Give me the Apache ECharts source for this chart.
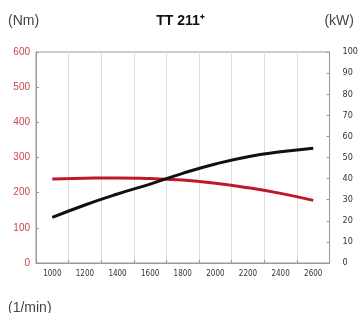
<!DOCTYPE html>
<html>
<head>
<meta charset="utf-8">
<script src="https://cdn.jsdelivr.net/npm/echarts@6/dist/echarts.min.js"></script>
<style>
  html, body { margin: 0; padding: 0; background: #fff; }
  #chart { width: 361px; height: 313px; }
</style>
</head>
<body>
<div id="chart"></div>
<script>
// rpm categories
var speeds = ['1000', '1200', '1400', '1600', '1800', '2000', '2200', '2400', '2600'];
// torque (Nm), left axis
var torque = [239, 241, 242, 240, 236, 227, 214, 198, 178];
// power (kW), right axis
var power = [21.6, 27.5, 32.7, 37.4, 42.5, 46.9, 50.4, 52.7, 54.4];

var chart = echarts.init(document.getElementById('chart'));
chart.setOption({
    animation: false,
    title: [
        {
            text: 'TT 211\u207A',
            left: 'center',
            top: 9,
            textStyle: {fontFamily: 'Liberation Sans', fontSize: 14, fontWeight: 'bold', color: '#111'}
        },
        {
            text: '(Nm)',
            left: 3,
            top: 9,
            textStyle: {fontFamily: 'Liberation Sans', fontSize: 14, fontWeight: 'normal', color: '#444'}
        },
        {
            text: '(kW)',
            right: 2,
            top: 9,
            textStyle: {fontFamily: 'Liberation Sans', fontSize: 14, fontWeight: 'normal', color: '#444'}
        },
        {
            text: '(1/min)',
            left: 3,
            top: 296,
            textStyle: {fontFamily: 'Liberation Sans', fontSize: 14, fontWeight: 'normal', color: '#444'}
        }
    ],
    grid: {
        left: 36,
        right: 31,
        top: 52,
        bottom: 50,
        show: true,
        borderColor: '#999',
        borderWidth: 1
    },
    xAxis: {
        type: 'category',
        data: speeds,
        boundaryGap: true,
        axisLine: {lineStyle: {color: '#999'}},
        axisTick: {show: true, inside: true, length: 3, lineStyle: {color: '#999'}},
        axisLabel: {fontFamily: 'DejaVu Sans Condensed', fontSize: 8, color: '#333', margin: 7},
        splitLine: {show: true, lineStyle: {color: '#ddd', width: 1}}
    },
    yAxis: [
        {
            type: 'value',
            min: 0,
            max: 600,
            interval: 100,
            axisLine: {show: true, lineStyle: {color: '#999'}},
            axisTick: {show: true, inside: true, length: 3, lineStyle: {color: '#999'}},
            axisLabel: {fontFamily: 'Liberation Sans', fontSize: 10, color: '#c8454a', margin: 6},
            splitLine: {show: false}
        },
        {
            type: 'value',
            min: 0,
            max: 100,
            interval: 10,
            position: 'right',
            axisLine: {show: true, lineStyle: {color: '#999'}},
            axisTick: {show: true, inside: true, length: 3, lineStyle: {color: '#999'}},
            axisLabel: {fontFamily: 'DejaVu Sans Condensed', fontSize: 9, color: '#333', margin: 13},
            splitLine: {show: false}
        }
    ],
    series: [
        {
            name: 'Nm',
            type: 'line',
            yAxisIndex: 0,
            data: torque,
            smooth: true,
            showSymbol: false,
            lineStyle: {color: '#c0182a', width: 3}
        },
        {
            name: 'kW',
            type: 'line',
            yAxisIndex: 1,
            data: power,
            smooth: true,
            showSymbol: false,
            lineStyle: {color: '#111', width: 3}
        }
    ]
});
</script>
</body>
</html>
